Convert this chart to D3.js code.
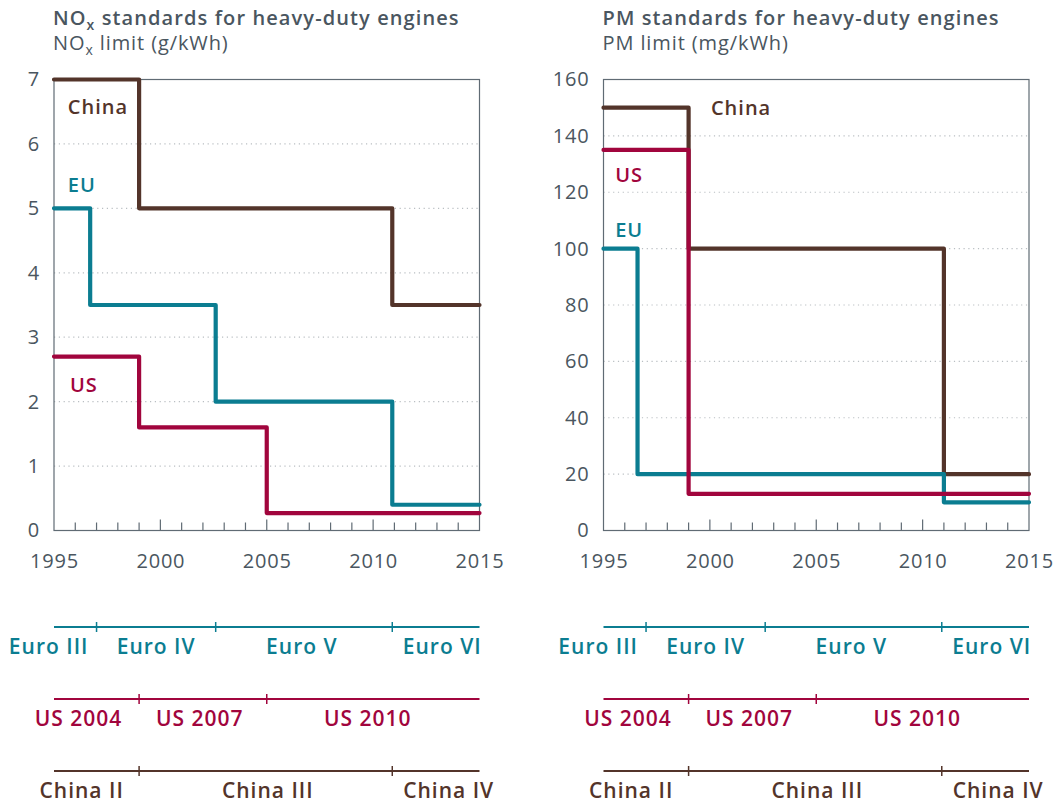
<!DOCTYPE html>
<html>
<head>
<meta charset="utf-8">
<script src="https://cdn.jsdelivr.net/npm/d3@7"></script>
<style>
  body { margin: 0; background: #fff; }
  text { font-family: "Open Sans", sans-serif; }
</style>
</head>
<body>
<div id="chart"></div>
<script>
// NOx limits (g/kWh), each value holds from its year to the next one
var noxChinaYears = [1995, 1999, 2010.9, 2015],
    noxChina      = [7.0, 5.0, 3.5, 3.5];
var noxEuYears    = [1995, 1996.7, 2002.6, 2010.9, 2015],
    noxEu         = [5.0, 3.5, 2.0, 0.4, 0.4];
var noxUsYears    = [1995, 1999, 2005, 2015],
    noxUs         = [2.7, 1.6, 0.27, 0.27];

// PM limits (mg/kWh)
var pmChinaYears = [1995, 1999, 2011, 2015],
    pmChina      = [150, 100, 20, 20];
var pmEuYears    = [1995, 1996.6, 2011, 2015],
    pmEu         = [100, 20, 10, 10];
var pmUsYears    = [1995, 1999, 2015],
    pmUs         = [135, 13, 13];

var yearTicks = [1995, 2000, 2005, 2010, 2015];

// regulation timelines under the charts
var euroSteps   = [1997, 2002.6, 2010.9],
    euroNames   = ["Euro III", "Euro IV", "Euro V", "Euro VI"],
    euroNameAt  = [1994.75, 1999.8, 2006.65, 2013.25];
var usSteps     = [1999, 2005],
    usNames     = ["US 2004", "US 2007", "US 2010"],
    usNameAt    = [1996.15, 2001.85, 2009.75];
var chinaSteps  = [1999, 2010.9],
    chinaNames  = ["China II", "China III", "China IV"],
    chinaNameAt = [1996.3, 2005.05, 2013.55];

var colChina = "#53342a", colEu = "#0b7d91", colUs = "#a1053d",
    gray = "#4a5660", axisGray = "#606b74";

function zip(xs, ys) { return xs.map(function(x, i) { return [x, ys[i]]; }); }

var svg = d3.select("#chart").append("svg")
    .attr("width", 1054)
    .attr("height", 803);

function drawPanel(opt) {
    var g = svg.append("g");
    var x = d3.scaleLinear().domain([1995, 2015]).range([opt.left, opt.left + 425.5]);
    var y = d3.scaleLinear().domain([0, opt.yMax]).range([530.5, 79.5]);

    // title with optional subscript
    var t = g.append("text")
        .attr("x", opt.left - 1).attr("y", 25)
        .attr("fill", gray)
        .style("font-size", "20px").style("font-weight", 600)
        .style("letter-spacing", "1.1px");
    t.append("tspan").text(opt.title[0]);
    if (opt.title.length > 2) {
        t.append("tspan").attr("dy", 5).style("font-size", "14px").text(opt.title[1]);
        t.append("tspan").attr("dy", -5).text(opt.title[2]);
    }
    var s = g.append("text")
        .attr("x", opt.left - 1).attr("y", 50)
        .attr("fill", gray)
        .style("font-size", "20px")
        .style("letter-spacing", "0.9px");
    s.append("tspan").text(opt.sub[0]);
    if (opt.sub.length > 2) {
        s.append("tspan").attr("dy", 5).style("font-size", "14px").text(opt.sub[1]);
        s.append("tspan").attr("dy", -5).text(opt.sub[2]);
    }

    // dotted grid
    var yt = d3.range(0, opt.yMax + opt.yStep / 2, opt.yStep);
    g.selectAll(".grid")
        .data(yt.filter(function(d) { return d > 0 && d < opt.yMax; }))
        .enter().append("line")
        .attr("x1", x(1995)).attr("x2", x(2015))
        .attr("y1", function(d) { return y(d); })
        .attr("y2", function(d) { return y(d); })
        .attr("stroke", "#b9bec2")
        .attr("stroke-width", 1.2)
        .attr("stroke-dasharray", "1.2,3.6");

    // frame
    g.append("rect")
        .attr("x", x(1995)).attr("y", y(opt.yMax))
        .attr("width", x(2015) - x(1995)).attr("height", y(0) - y(opt.yMax))
        .attr("fill", "none").attr("stroke", axisGray).attr("stroke-width", 1.2);

    // y labels
    var ya = g.append("g")
        .attr("transform", "translate(" + x(1995) + ",0)")
        .call(d3.axisLeft(y).tickValues(yt).tickFormat(d3.format("d")).tickSize(0).tickPadding(14));
    ya.select(".domain").remove();
    ya.selectAll("text").attr("fill", gray).style("font-size", "20px").style("letter-spacing", "0.8px");

    // x labels
    var xa = g.append("g")
        .attr("transform", "translate(0," + y(0) + ")")
        .call(d3.axisBottom(x).tickValues(yearTicks).tickFormat(d3.format("d")).tickSize(0).tickPadding(23));
    xa.select(".domain").remove();
    xa.selectAll("text").attr("fill", gray).style("font-size", "20px").style("letter-spacing", "0.8px");

    // yearly ticks pointing up into the plot
    g.selectAll(".yt")
        .data(d3.range(1996, 2015))
        .enter().append("line")
        .attr("x1", function(d) { return x(d); })
        .attr("x2", function(d) { return x(d); })
        .attr("y1", y(0))
        .attr("y2", function(d) { return y(0) - (d % 5 == 0 ? 11 : 8); })
        .attr("stroke", axisGray).attr("stroke-width", 1.2);

    // step lines
    var line = d3.line()
        .curve(d3.curveStepAfter)
        .x(function(d) { return x(d[0]); })
        .y(function(d) { return y(d[1]); });
    opt.series.forEach(function(sr) {
        g.append("path")
            .datum(sr.data)
            .attr("fill", "none")
            .attr("stroke", sr.color)
            .attr("stroke-width", 4.2)
            .attr("stroke-linejoin", "round")
            .attr("stroke-linecap", "round")
            .attr("d", line);
        g.append("text")
            .attr("x", x(sr.at[0])).attr("y", y(sr.at[1]))
            .attr("dy", "0.35em")
            .attr("fill", sr.color)
            .style("font-size", "20px").style("font-weight", 600)
            .style("letter-spacing", "1px")
            .text(sr.name);
    });

    // timelines
    var rows = [
        {steps: euroSteps, names: euroNames, at: euroNameAt, color: colEu, y: 627},
        {steps: usSteps, names: usNames, at: usNameAt, color: colUs, y: 699},
        {steps: chinaSteps, names: chinaNames, at: chinaNameAt, color: colChina, y: 771}
    ];
    rows.forEach(function(r) {
        var rg = g.append("g");
        rg.append("line")
            .attr("x1", x(1995)).attr("x2", x(2015))
            .attr("y1", r.y).attr("y2", r.y)
            .attr("stroke", r.color).attr("stroke-width", 2);
        rg.selectAll(".tk")
            .data(r.steps)
            .enter().append("line")
            .attr("x1", function(d) { return x(d); })
            .attr("x2", function(d) { return x(d); })
            .attr("y1", r.y - 5).attr("y2", r.y + 5)
            .attr("stroke", r.color).attr("stroke-width", 1.5);
        rg.selectAll(".nm")
            .data(r.names)
            .enter().append("text")
            .attr("x", function(d, i) { return x(r.at[i]); })
            .attr("y", r.y + 27)
            .attr("text-anchor", "middle")
            .attr("fill", r.color)
            .style("font-size", "21px").style("font-weight", 600)
            .style("letter-spacing", "1px")
            .text(function(d) { return d; });
    });
}

drawPanel({
    left: 54,
    title: ["NO", "x", " standards for heavy-duty engines"],
    sub: ["NO", "x", " limit (g/kWh)"],
    yMax: 7, yStep: 1,
    series: [
        {name: "China", color: colChina, data: zip(noxChinaYears, noxChina), at: [1995.65, 6.58]},
        {name: "EU", color: colEu, data: zip(noxEuYears, noxEu), at: [1995.65, 5.36]},
        {name: "US", color: colUs, data: zip(noxUsYears, noxUs), at: [1995.75, 2.26]}
    ]
});

drawPanel({
    left: 603.5,
    title: ["PM standards for heavy-duty engines"],
    sub: ["PM limit (mg/kWh)"],
    yMax: 160, yStep: 20,
    series: [
        {name: "China", color: colChina, data: zip(pmChinaYears, pmChina), at: [2000.05, 150]},
        {name: "EU", color: colEu, data: zip(pmEuYears, pmEu), at: [1995.55, 106.5]},
        {name: "US", color: colUs, data: zip(pmUsYears, pmUs), at: [1995.55, 126]}
    ]
});
</script>
</body>
</html>
